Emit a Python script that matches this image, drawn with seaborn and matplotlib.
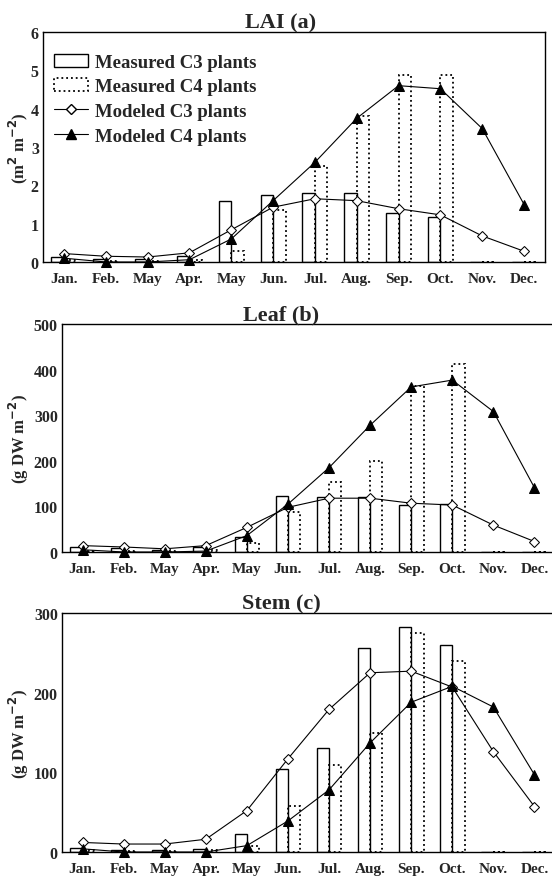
import matplotlib
matplotlib.use("Agg")
import matplotlib.pyplot as plt
from matplotlib.patches import Patch
from matplotlib.lines import Line2D
from matplotlib.ticker import MultipleLocator
import seaborn as sns
import pandas as pd
import numpy as np

# ---- data ----
months = ["Jan.", "Feb.", "May", "Apr.", "May", "Jun.", "Jul.", "Aug.", "Sep.", "Oct.", "Nov.", "Dec."]

lai_meas_c3 = [0.12, 0.08, 0.08, 0.16, 1.58, 1.75, 1.8, 1.8, 1.28, 1.17, 0, 0]
lai_meas_c4 = [0.05, 0.03, 0.03, 0.05, 0.3, 1.35, 2.5, 3.8, 4.88, 4.88, 0, 0]
lai_mod_c3 = [0.22, 0.15, 0.13, 0.24, 0.84, 1.43, 1.65, 1.6, 1.39, 1.23, 0.68, 0.28]
lai_mod_c4 = [0.1, 0.0, 0.0, 0.06, 0.6, 1.6, 2.6, 3.75, 4.6, 4.52, 3.48, 1.5]

leaf_meas_c3 = [10, 8, 5, 10, 33, 123, 120, 120, 103, 105, 0, 0]
leaf_meas_c4 = [3, 2, 2, 5, 20, 88, 154, 200, 365, 413, 0, 0]
leaf_mod_c3 = [14, 11, 7, 14, 54, 98, 118, 118, 107, 103, 59, 23]
leaf_mod_c4 = [5, 0, 0, 2, 36, 105, 185, 278, 362, 377, 308, 141]

stem_meas_c3 = [5, 3, 2, 4, 23, 104, 131, 256, 283, 260, 0, 0]
stem_meas_c4 = [2, 1, 1, 2, 8, 58, 109, 149, 275, 240, 0, 0]
stem_mod_c3 = [12, 10, 10, 16, 52, 117, 179, 225, 227, 207, 126, 57]
stem_mod_c4 = [4, 0, 0, 0, 8, 39, 78, 137, 188, 208, 182, 97]

panels = [
    ("LAI (a)", "(m$^\\mathbf{2}$ m$^\\mathbf{-2}$)", lai_meas_c3, lai_meas_c4, lai_mod_c3, lai_mod_c4, 6, 1),
    ("Leaf (b)", "(g DW m$^\\mathbf{-2}$)", leaf_meas_c3, leaf_meas_c4, leaf_mod_c3, leaf_mod_c4, 500, 100),
    ("Stem (c)", "(g DW m$^\\mathbf{-2}$)", stem_meas_c3, stem_meas_c4, stem_mod_c3, stem_mod_c4, 300, 100),
]

sns.set_style("white")
plt.rcParams['font.family'] = ['Liberation Serif', 'DejaVu Serif']
plt.rcParams['font.weight'] = 'bold'
plt.rcParams['mathtext.default'] = 'bf'

fig = plt.figure(figsize=(5.52, 8.79), dpi=100)
W, H = 552.0, 879.0
# left, right, top, bottom of each axes in pixels, and x of the y label centre
boxes = [(43, 545, 33, 263, 18), (62, 555, 325, 553, 19), (62, 555, 614, 853, 19)]

idx = list(range(12))
for (title, ylab, mc3, mc4, md3, md4, ymax, ystep), (l, r, t, b, yl) in zip(panels, boxes):
    ax = fig.add_axes([l / W, 1 - b / H, (r - l) / W, (b - t) / H])

    df = pd.DataFrame({
        "idx": idx * 2,
        "value": mc3 + mc4,
        "group": ["C3"] * 12 + ["C4"] * 12,
    })
    sns.barplot(data=df, x="idx", y="value", hue="group", hue_order=["C3", "C4"],
                width=0.6, palette=["white", "white"], edgecolor="black",
                linewidth=1.0, errorbar=None, legend=False, ax=ax)
    for bar in ax.containers[0]:
        bar.set_facecolor("none")
    for bar in ax.containers[1]:
        bar.set_facecolor("none")
        bar.set_linestyle(":")
        bar.set_linewidth(1.3)

    sns.lineplot(x=idx, y=md3, color="black", lw=0.8, marker="D", markersize=5.5,
                 markerfacecolor="white", markeredgecolor="black", clip_on=False, ax=ax)
    sns.lineplot(x=idx, y=md4, color="black", lw=0.8, marker="^", markersize=6.5,
                 markerfacecolor="black", markeredgecolor="black", clip_on=False, ax=ax)

    ax.set_xlim(-0.5, 11.5)
    ax.set_ylim(0, ymax)
    ax.yaxis.set_major_locator(MultipleLocator(ystep))
    ax.set_xticks(idx)
    ax.set_xticklabels(months, fontsize=11, fontweight="bold")
    ax.set_xticks(np.arange(-0.5, 12, 1.0), minor=True)
    ax.tick_params(axis="x", which="both", direction="in", length=3, width=0.8, pad=7)
    ax.tick_params(axis="y", direction="in", length=3, width=0.8, labelsize=11.5, pad=3)
    for lab in ax.get_yticklabels():
        lab.set_fontweight("bold")
    ax.set_xlabel("")
    ax.set_ylabel(ylab, fontsize=12, fontweight="bold")
    ax.yaxis.set_label_coords((yl - l) / (r - l), 0.5)
    ax.yaxis.label.set_va("center")
    ax.set_title(title, fontsize=16, fontweight="bold", pad=3, x=(281 - l) / (r - l))
    for s in ["left", "bottom", "top", "right"]:
        ax.spines[s].set_color("black")
        ax.spines[s].set_linewidth(1.0)

    if title.startswith("LAI"):
        handles = [
            Patch(facecolor="none", edgecolor="black", linewidth=1.0),
            Patch(facecolor="none", edgecolor="black", linewidth=1.3, linestyle=":"),
            Line2D([], [], color="black", lw=0.8, marker="D", markersize=5.5,
                   markerfacecolor="white", markeredgecolor="black"),
            Line2D([], [], color="black", lw=0.8, marker="^", markersize=6.5,
                   markerfacecolor="black", markeredgecolor="black"),
        ]
        labels = ["Measured C3 plants", "Measured C4 plants", "Modeled C3 plants", "Modeled C4 plants"]
        ax.legend(handles, labels, loc="upper left", bbox_to_anchor=(0.0, 0.955),
                  frameon=False, prop={"family": "Liberation Serif", "weight": "bold", "size": 13.5},
                  handlelength=1.8, handletextpad=0.35, labelspacing=0.4, borderaxespad=0.2)

fig.savefig("out.png", dpi=100)
